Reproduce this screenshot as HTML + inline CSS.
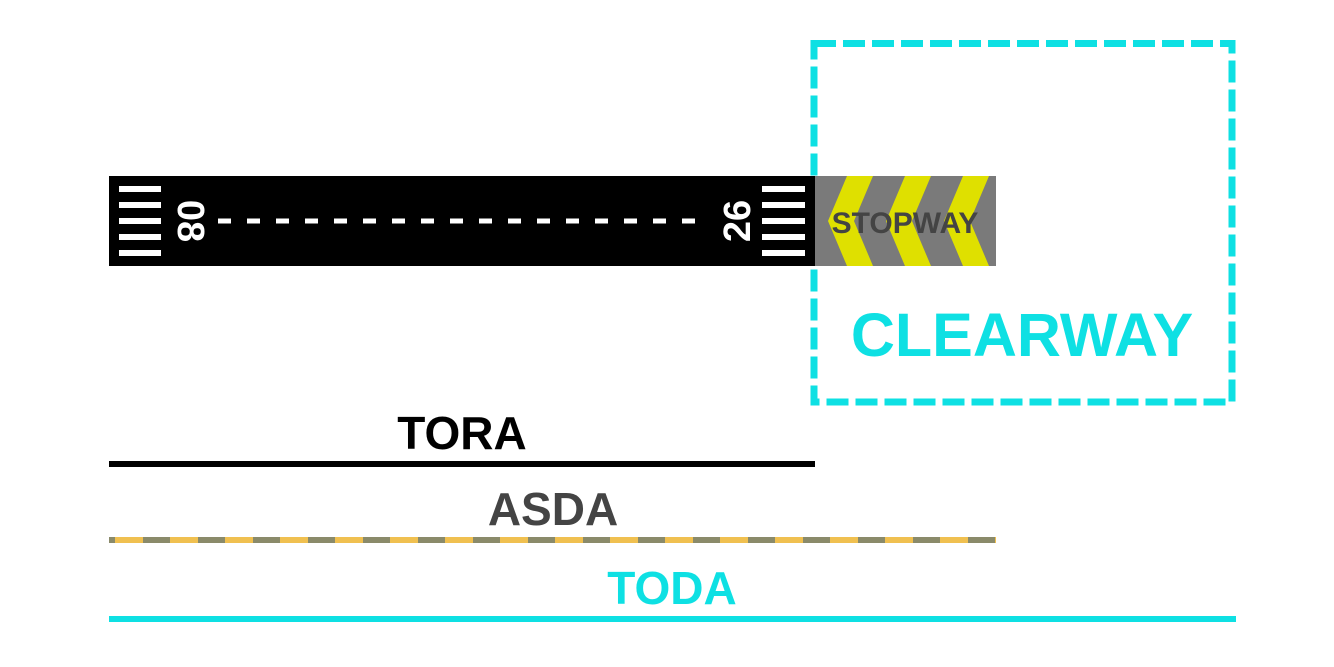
<!DOCTYPE html>
<html><head><meta charset="utf-8"><style>
html,body{margin:0;padding:0;background:#fff;}
svg{display:block;}
text{font-family:"Liberation Sans",sans-serif;font-weight:bold;}
</style></head><body>
<svg width="1334" height="667" viewBox="0 0 1334 667" xmlns="http://www.w3.org/2000/svg">
<rect x="814" y="43.5" width="418" height="358.5" fill="none" stroke="#0ee0e3" stroke-width="7" stroke-dasharray="22 7"/>
<rect x="109" y="176" width="706" height="90" fill="#000"/>
<rect x="815" y="176" width="181" height="90" fill="#7a7a7a"/>
<defs><clipPath id="sc"><rect x="815" y="176" width="181" height="90"/></clipPath></defs>
<g clip-path="url(#sc)" fill="#dfe000">
<polygon points="847,176 873,176 854,221 873,266 847,266 828,221"/>
<polygon points="905,176 931,176 912,221 931,266 905,266 886,221"/>
<polygon points="963,176 989,176 970,221 989,266 963,266 944,221"/>
</g>
<text x="905" y="233" font-size="30" fill="#444" text-anchor="middle">STOPWAY</text>
<g fill="#fff">
<rect x="119" y="186" width="42" height="6"/><rect x="119" y="202" width="42" height="6"/><rect x="119" y="218" width="42" height="6"/><rect x="119" y="234" width="42" height="6"/><rect x="119" y="250" width="42" height="6"/>
<rect x="762" y="186" width="43" height="6"/><rect x="762" y="202" width="43" height="6"/><rect x="762" y="218" width="43" height="6"/><rect x="762" y="234" width="43" height="6"/><rect x="762" y="250" width="43" height="6"/>
</g>
<line x1="218" y1="221" x2="710" y2="221" stroke="#fff" stroke-width="5" stroke-dasharray="13 16"/>
<text transform="translate(178,221) rotate(90)" font-size="38" fill="#fff" text-anchor="middle">08</text>
<text transform="translate(750,221) rotate(-90)" font-size="38" fill="#fff" text-anchor="middle">26</text>
<text x="1022" y="356" font-size="61" fill="#0ee0e3" text-anchor="middle">CLEARWAY</text>
<text x="462" y="449" font-size="46" fill="#000" text-anchor="middle">TORA</text>
<rect x="109" y="461" width="706" height="6" fill="#000"/>
<text x="553" y="525" font-size="46" fill="#444" text-anchor="middle">ASDA</text>
<line x1="109" y1="540" x2="996" y2="540" stroke="#f0c050" stroke-width="6"/>
<line x1="109" y1="540" x2="996" y2="540" stroke="#8a8a6a" stroke-width="6" stroke-dasharray="27 28" stroke-dashoffset="21"/>
<text x="672" y="604" font-size="46" fill="#0ee0e3" text-anchor="middle">TODA</text>
<rect x="109" y="616" width="1127" height="6" fill="#0ee0e3"/>
</svg>
</body></html>
